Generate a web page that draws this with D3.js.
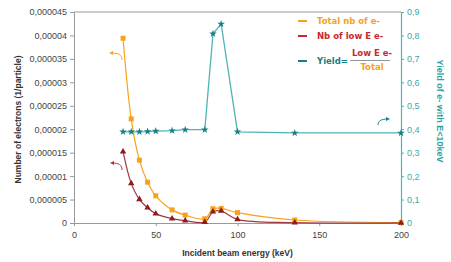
<!DOCTYPE html>
<html>
<head>
<meta charset="utf-8">
<script src="https://cdn.jsdelivr.net/npm/d3@7"></script>
<style>
  body { margin: 0; background: #fff; }
  text { font-family: "Liberation Sans", Arial, sans-serif; }
</style>
</head>
<body>
<div class="canvas"></div>
<script>
// DATA ----------------------------------------------------------------------
const energies = [30, 35, 40, 45, 50, 60, 68, 80, 85, 90, 100, 135, 200];     // keV
const totalElectrons = [39.4e-6, 22.2e-6, 13.4e-6, 8.7e-6, 5.8e-6, 2.8e-6, 1.7e-6, 0.9e-6, 3.05e-6, 3.1e-6, 2.2e-6, 0.64e-6, 0.1e-6];
const lowElectrons = [15.2e-6, 8.45e-6, 5.05e-6, 3.25e-6, 2.0e-6, 0.92e-6, 0.5e-6, 0.2e-6, 2.4e-6, 2.56e-6, 0.78e-6, 0.06e-6, 0.03e-6];
const yieldValues = [0.389, 0.389, 0.389, 0.390, 0.392, 0.394, 0.398, 0.398, 0.807, 0.849, 0.389, 0.384, 0.384];
const xTicks = [0, 50, 100, 150, 200];
const leftTicks = [0, 5e-6, 10e-6, 15e-6, 20e-6, 25e-6, 30e-6, 35e-6, 40e-6, 45e-6];
const rightTicks = [0, 0.1, 0.2, 0.3, 0.4, 0.5, 0.6, 0.7, 0.8, 0.9];

const ORANGE = '#f7a21b';
const DARKRED = '#8c1c22';
const RED = '#c8282d';
const TEAL_LINE = '#4db3b3';
const TEAL = '#177f84';
const GREY = '#444';

// SET UP --------------------------------------------------------------------
const width = 451, height = 262;
const svg = d3.select('.canvas')
    .append('svg')
        .attr('width', width)
        .attr('height', height);

const margin = { top: 12, right: 50, bottom: 39, left: 74 };

const x = d3.scaleLinear().domain([0, 200]).range([margin.left, width - margin.right]);
const yLeft = d3.scaleLinear().domain([0, 45e-6]).range([height - margin.bottom, margin.top]);
const yRight = d3.scaleLinear().domain([0, 0.9]).range([height - margin.bottom, margin.top]);

// comma as decimal separator
const locale = d3.formatLocale({ decimal: ',', thousands: '.', grouping: [3], currency: ['', ''] });
const fmtLeft = locale.format('.6~f');
const fmtRight = locale.format('.1~f');

// top frame line
svg.append('line')
    .attr('x1', x(0)).attr('x2', x(200))
    .attr('y1', yLeft(45e-6)).attr('y2', yLeft(45e-6))
    .attr('stroke', '#999');

// axes
const xAxisGroup = svg.append('g')
    .attr('transform', `translate(0, ${yLeft(0)})`)
    .call(d3.axisBottom(x).tickValues(xTicks).tickSize(3).tickSizeOuter(0));
const yAxisGroup = svg.append('g')
    .attr('transform', `translate(${x(0)}, 0)`)
    .call(d3.axisLeft(yLeft).tickValues(leftTicks).tickFormat(fmtLeft).tickSize(4).tickSizeOuter(0));
const yRightGroup = svg.append('g')
    .attr('transform', `translate(${x(200)}, 0)`)
    .call(d3.axisRight(yRight).tickValues(rightTicks).tickFormat(fmtRight).tickSize(3).tickSizeOuter(0));

[xAxisGroup, yAxisGroup].forEach(g => {
    g.select('.domain').attr('stroke', '#999');
    g.selectAll('.tick line').attr('stroke', '#999');
    g.selectAll('text')
        .attr('fill', GREY)
        .style('font', '9px "Liberation Sans", Arial, sans-serif');
});
xAxisGroup.selectAll('text').attr('dy', '1.05em');
yRightGroup.select('.domain').attr('stroke', TEAL_LINE).attr('stroke-width', 1.2);
yRightGroup.selectAll('.tick line').attr('stroke', TEAL_LINE);
yRightGroup.selectAll('text')
    .attr('fill', '#3aa8ab')
    .style('font', '9px "Liberation Sans", Arial, sans-serif');

// axis titles
svg.append('text')
    .attr('text-anchor', 'middle')
    .attr('x', (x(0) + x(200)) / 2)
    .attr('y', 256)
    .text('Incident beam energy (keV)')
    .attr('fill', '#333')
    .style('font', 'bold 8.5px "Liberation Sans", Arial, sans-serif');

svg.append('text')
    .attr('text-anchor', 'middle')
    .attr('transform', `translate(21, ${(yLeft(0) + yLeft(45e-6)) / 2 + 2}) rotate(-90)`)
    .text('Number of electrons (1/particle)')
    .attr('fill', '#333')
    .style('font', 'bold 8.5px "Liberation Sans", Arial, sans-serif');

svg.append('text')
    .attr('text-anchor', 'middle')
    .attr('transform', `translate(437, 111) rotate(90)`)
    .text('Yield of e- with E<10keV')
    .attr('fill', '#2e9fa3')
    .style('font', 'bold 9px "Liberation Sans", Arial, sans-serif');

// SERIES --------------------------------------------------------------------
const smooth = d3.line().curve(d3.curveCatmullRom.alpha(0.5));
const straight = d3.line();

const totalPts = energies.map((e, i) => [x(e), yLeft(totalElectrons[i])]);
const lowPts = energies.map((e, i) => [x(e), yLeft(lowElectrons[i])]);
const yieldPts = energies.map((e, i) => [x(e), yRight(yieldValues[i])]);

svg.append('path')
    .attr('d', straight(yieldPts))
    .attr('fill', 'none')
    .attr('stroke', TEAL_LINE)
    .attr('stroke-width', 1.3);

svg.append('path')
    .attr('d', smooth(totalPts))
    .attr('fill', 'none')
    .attr('stroke', ORANGE)
    .attr('stroke-width', 1.2);

svg.append('path')
    .attr('d', smooth(lowPts))
    .attr('fill', 'none')
    .attr('stroke', '#a0393e')
    .attr('stroke-width', 1.2);

// markers
svg.selectAll('.m-total').data(totalPts).enter()
    .append('rect')
    .attr('x', d => d[0] - 2.5).attr('y', d => d[1] - 2.5)
    .attr('width', 5).attr('height', 5)
    .attr('fill', ORANGE);

svg.selectAll('.m-low').data(lowPts).enter()
    .append('path')
    .attr('d', d3.symbol().type(d3.symbolTriangle).size(18))
    .attr('transform', d => `translate(${d[0]}, ${d[1]})`)
    .attr('fill', DARKRED);

svg.selectAll('.m-yield').data(yieldPts).enter()
    .append('path')
    .attr('d', d3.symbol().type(d3.symbolStar).size(18))
    .attr('transform', d => `translate(${d[0]}, ${d[1]})`)
    .attr('fill', TEAL);

// LEGEND --------------------------------------------------------------------
const legendFont = 'bold 8.5px "DejaVu Sans", Verdana, sans-serif';
const legend = [
    { label: 'Total nb of e-', color: ORANGE, y: 21 },
    { label: 'Nb of low E e-', color: RED, y: 36 }
];
legend.forEach(l => {
    svg.append('line')
        .attr('x1', 298).attr('x2', 307)
        .attr('y1', l.y).attr('y2', l.y)
        .attr('stroke', l.color).attr('stroke-width', 2);
    svg.append('text')
        .attr('x', 317).attr('y', l.y + 3)
        .text(l.label)
        .attr('fill', l.color)
        .style('font', legendFont);
});
svg.append('line')
    .attr('x1', 298).attr('x2', 307)
    .attr('y1', 61).attr('y2', 61)
    .attr('stroke', TEAL).attr('stroke-width', 2);
svg.append('text')
    .attr('x', 317).attr('y', 64)
    .text('Yield=')
    .attr('fill', TEAL)
    .style('font', legendFont);
svg.append('text')
    .attr('x', 372).attr('y', 56).attr('text-anchor', 'middle')
    .text('Low E e-')
    .attr('fill', RED)
    .style('font', legendFont);
svg.append('line')
    .attr('x1', 350).attr('x2', 390)
    .attr('y1', 60.5).attr('y2', 60.5)
    .attr('stroke', '#777').attr('stroke-width', 0.8);
svg.append('text')
    .attr('x', 372).attr('y', 70).attr('text-anchor', 'middle')
    .text('Total')
    .attr('fill', ORANGE)
    .style('font', legendFont);

// ANNOTATION ARROWS ---------------------------------------------------------
const defs = svg.append('defs');
[['arr-o', ORANGE], ['arr-r', RED], ['arr-t', TEAL]].forEach(([id, c]) => {
    defs.append('marker')
        .attr('id', id)
        .attr('viewBox', '0 0 10 10')
        .attr('refX', 5).attr('refY', 5)
        .attr('markerWidth', 4).attr('markerHeight', 4)
        .attr('orient', 'auto')
        .append('path')
        .attr('d', 'M0,0 L10,5 L0,10 Z')
        .attr('fill', c);
});
svg.append('path')
    .attr('d', 'M122,60 C122,55 119,53 111,53')
    .attr('fill', 'none').attr('stroke', ORANGE).attr('stroke-width', 1)
    .attr('marker-end', 'url(#arr-o)');
svg.append('path')
    .attr('d', 'M122,170 C122,165 119,163 112,163')
    .attr('fill', 'none').attr('stroke', RED).attr('stroke-width', 1)
    .attr('marker-end', 'url(#arr-r)');
svg.append('path')
    .attr('d', 'M378,125 C378,121 381,119 388,119')
    .attr('fill', 'none').attr('stroke', TEAL).attr('stroke-width', 1)
    .attr('marker-end', 'url(#arr-t)');
</script>
</body>
</html>
